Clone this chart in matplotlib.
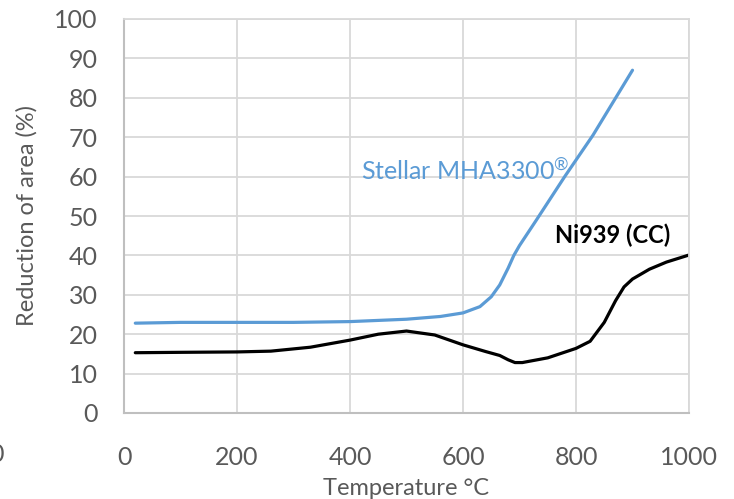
import matplotlib
matplotlib.use("Agg")
import matplotlib.pyplot as plt

plt.rcParams['font.family'] = ['Lato', 'DejaVu Sans']
plt.rcParams['mathtext.default'] = 'regular'

# Stellar MHA3300 (blue)
stellar_T = [20, 100, 200, 300, 400, 500, 560, 600, 630, 650, 665, 680, 690, 700, 730, 780, 830, 900]
stellar_RA = [22.8, 23.0, 23.0, 23.0, 23.2, 23.8, 24.5, 25.4, 27.0, 29.5, 32.5, 36.8, 40.0, 42.5, 49.0, 60.0, 70.5, 87.0]

# Ni939 (CC) (black)
ni_T = [20, 100, 200, 260, 330, 400, 450, 500, 550, 600, 640, 665, 680, 692, 705,
        750, 800, 825, 850, 870, 885, 900, 930, 960, 1000]
ni_RA = [15.3, 15.4, 15.5, 15.7, 16.7, 18.5, 20.0, 20.8, 19.8, 17.3, 15.6, 14.6, 13.5, 12.8, 12.8,
         14.0, 16.4, 18.2, 23.0, 28.5, 32.0, 34.0, 36.5, 38.3, 40.1]

x_ticks = [0, 200, 400, 600, 800, 1000]
y_ticks = [0, 10, 20, 30, 40, 50, 60, 70, 80, 90, 100]

blue = '#5B9BD5'
grid_c = '#D9D9D9'
txt_c = '#595959'

fig = plt.figure(figsize=(7.34, 4.99), dpi=100)
ax = fig.add_axes([124 / 734, 1 - 413 / 499, 565 / 734, 394 / 499])

ax.plot(stellar_T, stellar_RA, color=blue, lw=2.3, solid_capstyle='round', solid_joinstyle='round')
ax.plot(ni_T, ni_RA, color='black', lw=2.3, solid_capstyle='round', solid_joinstyle='round')

ax.set_xlim(0, 1000)
ax.set_ylim(0, 100)
ax.set_xticks(x_ticks)
ax.set_yticks(y_ticks)
ax.grid(True, color=grid_c, lw=1.3)
ax.set_axisbelow(True)
for s in ['top', 'right']:
    ax.spines[s].set_color(grid_c)
    ax.spines[s].set_linewidth(1.3)
for s in ['left', 'bottom']:
    ax.spines[s].set_color('#BFBFBF')
    ax.spines[s].set_linewidth(1.5)
ax.tick_params(axis='x', length=0, pad=24, labelsize=18, labelcolor=txt_c)
ax.tick_params(axis='y', length=0, pad=19, labelsize=18, labelcolor=txt_c)

ax.set_xlabel('Temperature °C', fontsize=17, color=txt_c, labelpad=6)
ax.set_ylabel('Reduction of area (%)', fontsize=17, color=txt_c, labelpad=12)

ax.text(420, 61.5, r'Stellar MHA3300$^{®}$', color=blue, fontsize=18, ha='left', va='center')
ax.text(763, 45, 'Ni939 (CC)', color='black', fontsize=17, fontweight='bold', ha='left', va='center')

# cut-off label at the very left edge of the original image
fig.text(4 / 734, 1 - 455 / 499, '0', fontsize=18, color=txt_c, ha='right', va='center')

fig.savefig('out.png', dpi=100)
